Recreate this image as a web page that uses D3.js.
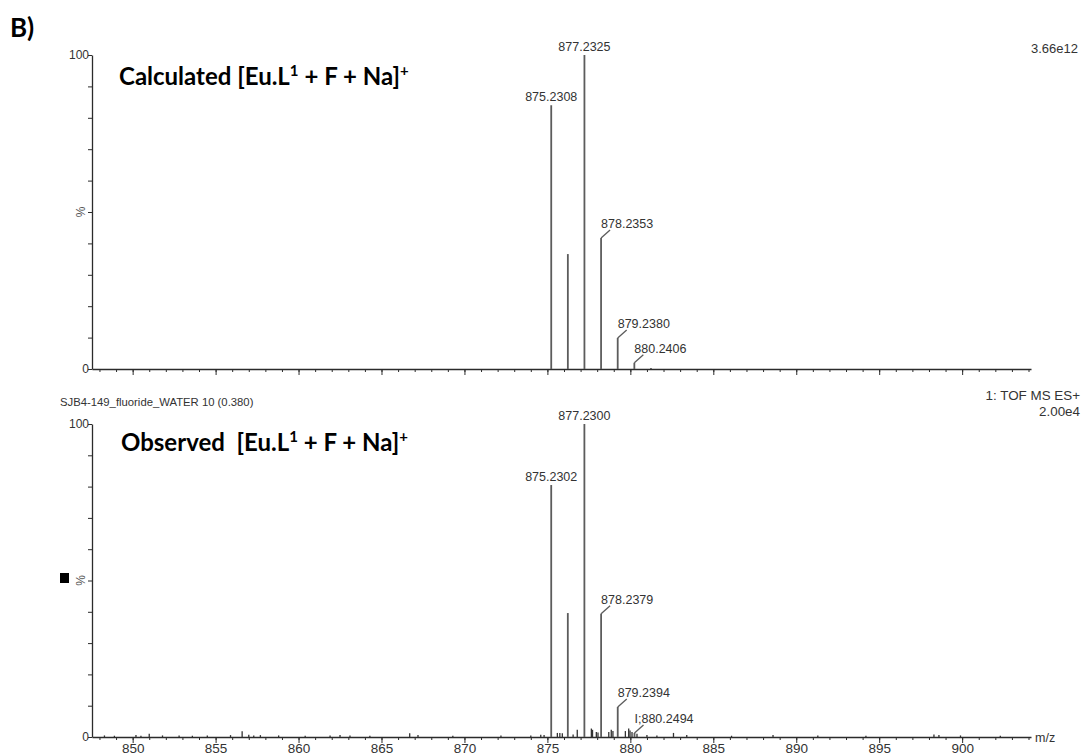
<!DOCTYPE html>
<html><head><meta charset="utf-8">
<script src="https://cdn.jsdelivr.net/npm/d3@7"></script>
<style>
html,body{margin:0;padding:0;background:#fff;}
svg{display:block;}
</style></head>
<body>
<script>
// ---- data ----
const xDomain = [847.55, 904.15];
const majorTicks = [850, 855, 860, 865, 870, 875, 880, 885, 890, 895, 900];
const minorTicks = d3.range(848, 905);
const yTicks = [0, 10, 20, 30, 40, 50, 60, 70, 80, 90, 100];

// calculated isotope pattern
const calcMz = [875.2308, 876.2330, 877.2325, 878.2353, 879.2380, 880.2406, 881.2430];
const calcInt = [84, 36.6, 100, 41.7, 9.9, 2.0, 0.3];
const calcLabels = ["875.2308", "", "877.2325", "878.2353", "879.2380", "880.2406", ""];

// observed spectrum, main peaks
const obsMz = [875.2302, 876.2310, 877.2300, 878.2379, 879.2394, 880.2494];
const obsInt = [80.5, 39.6, 100, 39.4, 9.6, 1.3];
const obsLabels = ["875.2302", "", "877.2300", "878.2379", "879.2394", "I;880.2494"];

// observed spectrum, small peaks / noise
const noiseMz = [848.3, 848.9, 850.2, 850.5, 851.0, 851.8, 852.8, 853.6, 854.5, 855.9, 856.6, 857.0, 857.3, 857.7,
  858.8, 860.4, 861.9, 862.5, 863.1, 864.3, 866.7, 867.2, 869.3, 872.2, 874.0, 874.6, 874.8,
  875.6, 875.75, 875.9, 876.55, 876.8, 877.65, 877.72, 877.95, 878.05, 878.7, 878.85, 878.95,
  879.7, 879.9, 879.98, 880.1, 880.4, 881.0, 881.6, 882.6, 883.4, 886.1, 888.6, 891.3, 894.2, 898.3, 898.6, 899.9, 902.3];
const noiseInt = [0.5, 0.4, 0.6, 0.4, 1.0, 0.5, 0.5, 0.4, 0.5, 0.6, 1.8, 0.7, 0.5, 0.6,
  0.5, 0.4, 0.5, 0.6, 0.5, 0.4, 1.2, 0.6, 0.4, 0.5, 0.5, 0.7, 0.6,
  1.3, 1.3, 1.2, 0.8, 2.3, 2.7, 2.3, 1.6, 1.4, 1.6, 2.3, 1.9,
  1.9, 2.7, 2.1, 1.6, 1.0, 0.6, 0.5, 1.3, 0.6, 0.4, 0.6, 0.5, 0.4, 0.8, 0.6, 0.5, 0.4];

// ---- drawing ----
const W = 1082, H = 755;
const svg = d3.select("body").append("svg").attr("width", W).attr("height", H)
  .style("font-family", "'Liberation Sans', Arial, sans-serif");

const x = d3.scaleLinear().domain(xDomain).range([92, 1031]);
const yTop = d3.scaleLinear().domain([0, 100]).range([369, 55]);
const yBot = d3.scaleLinear().domain([0, 100]).range([737, 424]);

const axisColor = "#2b2b2b";
const stickColor = "#5c5c5c";
const labelColor = "#333";
const sans = "'Liberation Sans', Arial, sans-serif";

function drawPanel(y, showXLabels) {
  const g = svg.append("g");
  const minor = g.append("g").attr("transform", `translate(0,${y(0)})`)
    .call(d3.axisBottom(x).tickValues(minorTicks).tickSize(3).tickSizeOuter(0).tickFormat(""));
  minor.select(".domain").attr("stroke", axisColor).attr("stroke-width", 1.3);
  minor.selectAll(".tick line").attr("stroke", axisColor);
  const major = g.append("g").attr("transform", `translate(0,${y(0)})`)
    .call(d3.axisBottom(x).tickValues(majorTicks).tickSize(6).tickSizeOuter(0)
      .tickFormat(showXLabels ? d3.format("d") : () => ""));
  major.select(".domain").remove();
  major.selectAll(".tick line").attr("stroke", axisColor);
  major.selectAll(".tick text").attr("fill", "#333").attr("y", 6).attr("dy", "0.71em")
    .style("font-size", "13.5px").style("font-family", sans);
  const ya = g.append("g").attr("transform", `translate(92,0)`)
    .call(d3.axisLeft(y).tickValues(yTicks).tickSize(4).tickSizeOuter(0)
      .tickFormat(d => (d === 0 || d === 100) ? d : ""));
  ya.select(".domain").attr("stroke", axisColor).attr("stroke-width", 1.3);
  ya.selectAll(".tick line").attr("stroke", axisColor);
  ya.selectAll(".tick text").attr("fill", "#333").attr("x", -3)
    .style("font-size", "12px").style("font-family", sans);
  const mid = (y(0) + y(100)) / 2;
  g.append("text").attr("transform", `translate(81,${mid}) rotate(-90)`)
    .attr("text-anchor", "middle").attr("dy", "0.35em")
    .style("font-size", "12px").attr("fill", "#555").text("%");
  return g;
}

function drawSticks(g, y, mz, inten, color, width) {
  g.append("g").selectAll("line").data(mz.map((m, i) => [m, inten[i]])).join("line")
    .attr("x1", d => x(d[0])).attr("x2", d => x(d[0]))
    .attr("y1", y(0)).attr("y2", d => y(d[1]))
    .attr("stroke", color).attr("stroke-width", width);
}

function drawLabels(g, y, mz, inten, labels) {
  mz.forEach((m, i) => {
    const lab = labels[i];
    if (!lab) return;
    const px = x(m), py = y(inten[i]);
    if (inten[i] > 60) {
      g.append("text").attr("x", px).attr("y", py - 4).attr("text-anchor", "middle")
        .style("font-size", "12.5px").attr("fill", labelColor).text(lab);
    } else {
      g.append("line").attr("x1", px).attr("y1", py).attr("x2", px + 9).attr("y2", py - 8)
        .attr("stroke", stickColor).attr("stroke-width", 1.3);
      g.append("text").attr("x", px).attr("y", py - 10).attr("text-anchor", "start")
        .style("font-size", "12.5px").attr("fill", labelColor).text(lab);
    }
  });
}

const gTop = drawPanel(yTop, false);
drawSticks(gTop, yTop, calcMz, calcInt, stickColor, 1.8);
drawLabels(gTop, yTop, calcMz, calcInt, calcLabels);

const gBot = drawPanel(yBot, true);
drawSticks(gBot, yBot, noiseMz, noiseInt, "#333", 1.3);
drawSticks(gBot, yBot, obsMz, obsInt, stickColor, 1.8);
drawLabels(gBot, yBot, obsMz, obsInt, obsLabels);

svg.append("text").attr("x", 1035).attr("y", 742).style("font-size", "12.5px").attr("fill", "#333").text("m/z");

svg.append("text").attr("x", 1078).attr("y", 53).attr("text-anchor", "end")
  .style("font-size", "13px").attr("fill", "#333").text("3.66e12");
svg.append("text").attr("x", 60).attr("y", 406)
  .style("font-size", "11.3px").attr("fill", "#333").text("SJB4-149_fluoride_WATER 10 (0.380)");
svg.append("text").attr("x", 1080).attr("y", 400).attr("text-anchor", "end")
  .style("font-size", "13.4px").attr("fill", "#333").text("1: TOF MS ES+");
svg.append("text").attr("x", 1080).attr("y", 416).attr("text-anchor", "end")
  .style("font-size", "13.4px").attr("fill", "#333").text("2.00e4");

svg.append("rect").attr("x", 60).attr("y", 573).attr("width", 9).attr("height", 10).attr("fill", "#000");

const titleFont = "Lato, 'Open Sans', sans-serif";
svg.append("text").attr("x", 10).attr("y", 37)
  .style("font-family", titleFont).style("font-weight", "bold").style("font-size", "26px")
  .attr("fill", "#000").text("B)");

function formulaTitle(xp, yp, prefix) {
  const t = svg.append("text").attr("x", xp).attr("y", yp)
    .style("font-family", titleFont).style("font-weight", "bold").style("font-size", "24px")
    .style("white-space", "pre").attr("fill", "#000");
  t.append("tspan").text(prefix + "[Eu.L");
  t.append("tspan").attr("dy", -9).style("font-size", "15px").text("1");
  t.append("tspan").attr("dy", 9).text(" + F + Na]");
  t.append("tspan").attr("dy", -9).style("font-size", "15px").text("+");
}
formulaTitle(119, 85, "Calculated ");
formulaTitle(121, 451, "Observed  ");
</script>
</body></html>
